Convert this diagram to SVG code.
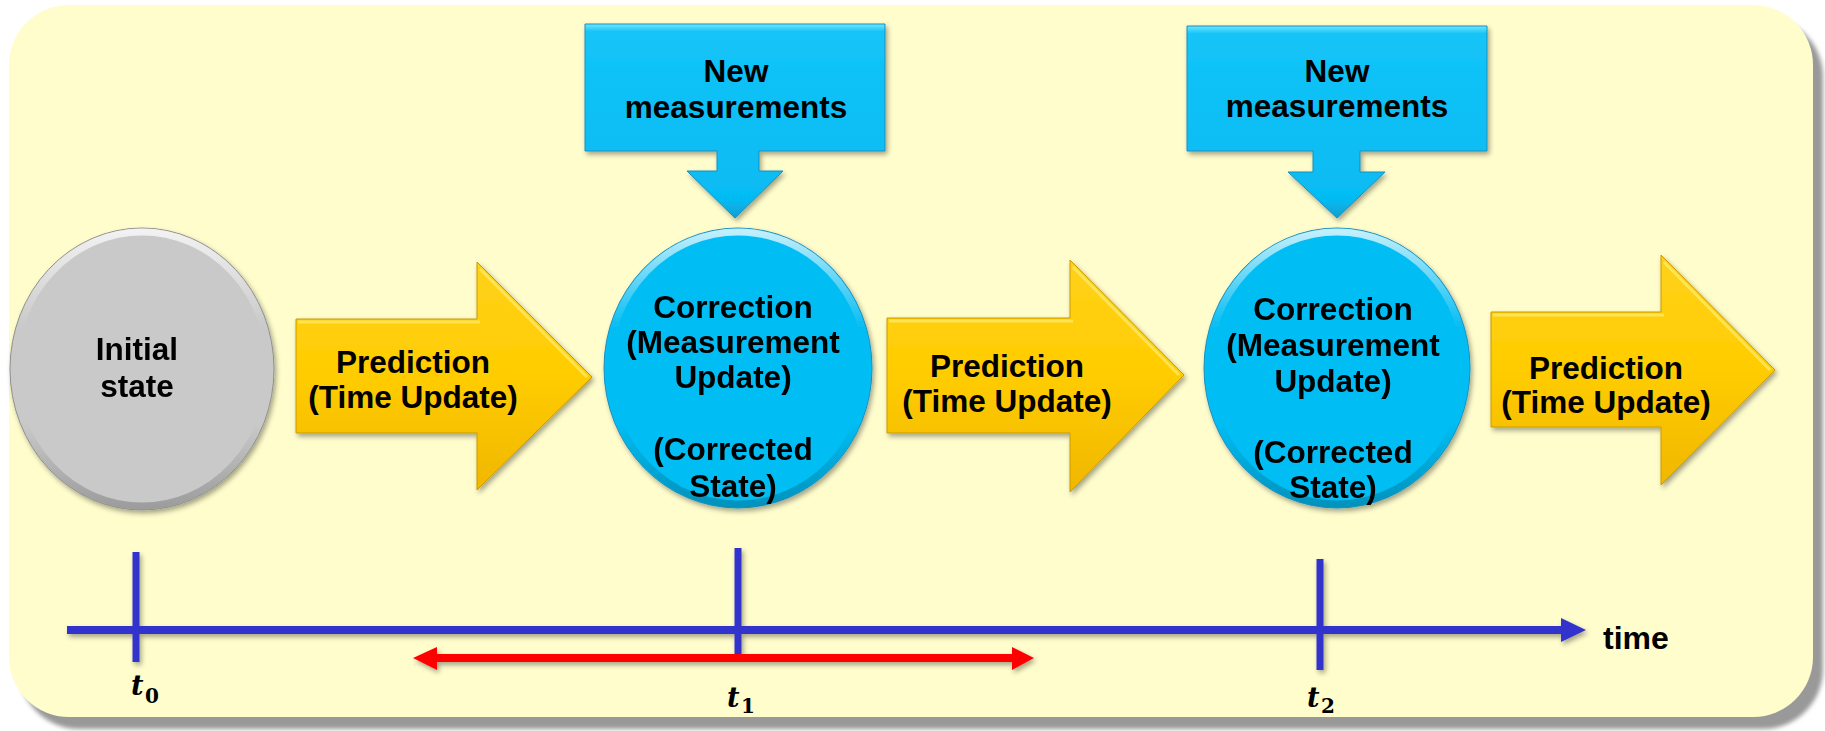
<svg xmlns="http://www.w3.org/2000/svg" width="1825" height="731" viewBox="0 0 1825 731">
<defs>
<style>
.lbl{font-family:"Liberation Sans",Arial,sans-serif;font-weight:bold;font-size:31.5px;text-anchor:middle;fill:#000}
.tl{font-family:"DejaVu Serif","Liberation Serif",serif;font-weight:bold;font-style:italic;font-size:27px;fill:#000}
.ts{font-family:"DejaVu Serif","Liberation Serif",serif;font-weight:bold;font-size:20px;fill:#000}
.blue{fill:url(#gBlue);stroke:#1a8fc0;stroke-width:1}
.yel{fill:url(#gYel);stroke:#c99a00;stroke-width:1}
.rim{fill:none;stroke:url(#gRim);stroke-width:7}
.axis{stroke:#3333CC;stroke-width:8;fill:none}
.tick{stroke:#3333CC;stroke-width:7;fill:none}
.red{stroke:#FF0000;stroke-width:8;fill:none}
</style>
<linearGradient id="gBlue" x1="0" y1="0" x2="0" y2="1">
<stop offset="0" stop-color="#6fe6ff"/>
<stop offset="0.04" stop-color="#14c4f8"/>
<stop offset="0.9" stop-color="#06bbf2"/>
<stop offset="1" stop-color="#0a9fd2"/>
</linearGradient>
<linearGradient id="gYel" x1="0" y1="0" x2="0" y2="1">
<stop offset="0" stop-color="#ffd21a"/>
<stop offset="0.5" stop-color="#ffcc00"/>
<stop offset="1" stop-color="#f0b700"/>
</linearGradient>
<linearGradient id="gRim" x1="0" y1="0" x2="0" y2="1">
<stop offset="0" stop-color="#ffffff" stop-opacity="0.75"/>
<stop offset="0.35" stop-color="#ffffff" stop-opacity="0"/>
<stop offset="0.7" stop-color="#000000" stop-opacity="0"/>
<stop offset="1" stop-color="#000000" stop-opacity="0.22"/>
</linearGradient>
<filter id="sh" x="-10%" y="-10%" width="130%" height="130%">
<feDropShadow dx="2" dy="3" stdDeviation="2.5" flood-color="#000" flood-opacity="0.35"/>
</filter>
<filter id="psh" x="-5%" y="-5%" width="110%" height="110%">
<feGaussianBlur stdDeviation="2"/>
</filter>
</defs>

<g id="panel">
<rect x="19" y="17" width="1804" height="712" rx="60" fill="#999999" filter="url(#psh)"/>
<rect x="9" y="5" width="1804" height="712" rx="60" fill="#FFFDCC"/>
</g>

<g id="initial" filter="url(#sh)">
<ellipse cx="142" cy="369" rx="132" ry="141" fill="#c9c9c9" stroke="#8f8f8f" stroke-width="1"/>
<ellipse cx="142" cy="369" rx="128" ry="137" class="rim"/>
<text class="lbl" x="137" y="360">Initial</text>
<text class="lbl" x="137" y="397">state</text>
</g>

<g id="predict1">
<path class="yel" filter="url(#sh)" d="M296,319 H477 V262 L592,377 L477,490 V433 H296 Z"/>
<path d="M298,322 H480 M480,269 L587,377" stroke="#ffe866" stroke-width="3" fill="none" opacity="0.8"/>
<text class="lbl" x="413" y="373">Prediction</text>
<text class="lbl" x="413" y="408">(Time Update)</text>
</g>

<g id="meas1">
<path class="blue" filter="url(#sh)" d="M585,24 H885 V151 H759 V171 H783 L735,218 L687,171 H717 V151 H585 Z"/>
<text class="lbl" x="736" y="82">New</text>
<text class="lbl" x="736" y="118">measurements</text>
</g>

<g id="correct1" filter="url(#sh)">
<ellipse cx="738" cy="368" rx="134" ry="140" fill="#06bdf3" stroke="#1a8fc0" stroke-width="1"/>
<ellipse cx="738" cy="368" rx="130" ry="136" class="rim"/>
<text class="lbl" x="733" y="318">Correction</text>
<text class="lbl" x="733" y="353">(Measurement</text>
<text class="lbl" x="733" y="388">Update)</text>
<text class="lbl" x="733" y="460">(Corrected</text>
<text class="lbl" x="733" y="497">State)</text>
</g>

<g id="predict2">
<path class="yel" filter="url(#sh)" d="M887,318 H1070 V260 L1184,375 L1070,492 V433 H887 Z"/>
<path d="M889,321 H1073 M1073,267 L1179,375" stroke="#ffe866" stroke-width="3" fill="none" opacity="0.8"/>
<text class="lbl" x="1007" y="377">Prediction</text>
<text class="lbl" x="1007" y="412">(Time Update)</text>
</g>

<g id="meas2">
<path class="blue" filter="url(#sh)" d="M1187,26 H1487 V151 H1360 V172 H1385 L1337,218 L1288,172 H1313 V151 H1187 Z"/>
<text class="lbl" x="1337" y="82">New</text>
<text class="lbl" x="1337" y="117">measurements</text>
</g>

<g id="correct2" filter="url(#sh)">
<ellipse cx="1337" cy="368" rx="133" ry="140" fill="#06bdf3" stroke="#1a8fc0" stroke-width="1"/>
<ellipse cx="1337" cy="368" rx="129" ry="136" class="rim"/>
<text class="lbl" x="1333" y="320">Correction</text>
<text class="lbl" x="1333" y="356">(Measurement</text>
<text class="lbl" x="1333" y="392">Update)</text>
<text class="lbl" x="1333" y="463">(Corrected</text>
<text class="lbl" x="1333" y="498">State)</text>
</g>

<g id="predict3">
<path class="yel" filter="url(#sh)" d="M1491,312 H1661 V255 L1775,370 L1661,485 V427 H1491 Z"/>
<path d="M1493,315 H1664 M1664,262 L1770,370" stroke="#ffe866" stroke-width="3" fill="none" opacity="0.8"/>
<text class="lbl" x="1606" y="379">Prediction</text>
<text class="lbl" x="1606" y="413">(Time Update)</text>
</g>

<g id="connectors" filter="url(#sh)">
<line class="axis" x1="67" y1="630" x2="1563" y2="630"/>
<polygon points="1561,618 1586,630 1561,642" fill="#3333CC"/>
<line class="tick" x1="136" y1="552" x2="136" y2="662"/>
<line class="tick" x1="738" y1="548" x2="738" y2="655"/>
<line class="tick" x1="1320" y1="559" x2="1320" y2="670"/>
<line class="red" x1="435" y1="658" x2="1014" y2="658"/>
<polygon points="413,658 437,647 437,670" fill="#FF0000"/>
<polygon points="1034,658 1012,647 1012,670" fill="#FF0000"/>
</g>

<g id="labels">
<text class="lbl" x="1603" y="649" style="text-anchor:start;font-size:32px">time</text>
<text class="tl" x="131" y="695">t</text><text class="ts" x="145" y="703">0</text>
<text class="tl" x="727" y="707">t</text><text class="ts" x="741" y="713">1</text>
<text class="tl" x="1307" y="707">t</text><text class="ts" x="1321" y="713">2</text>
</g>
</svg>
